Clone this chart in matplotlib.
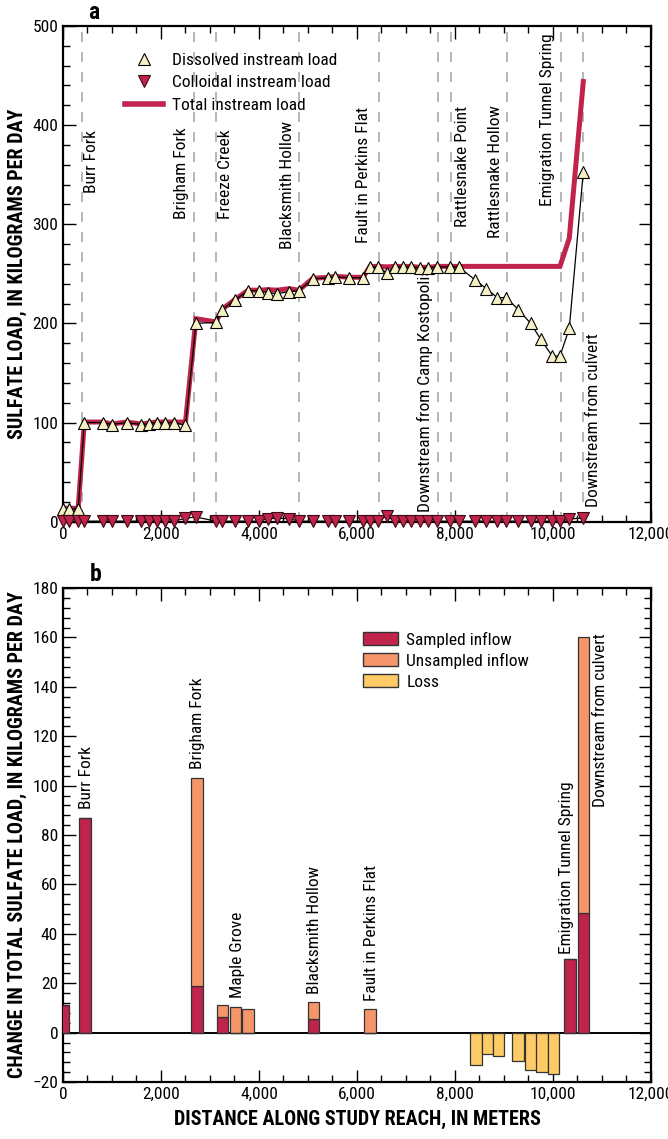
import matplotlib
matplotlib.use("Agg")
import matplotlib.pyplot as plt
from matplotlib import font_manager
from matplotlib.ticker import MultipleLocator, FuncFormatter
from matplotlib.lines import Line2D
from matplotlib.patches import Patch

# ---------------- data ----------------
# Panel a: synoptic sampling sites (distance, m)
site_x = [0, 130, 310, 435, 822, 990, 1300, 1600, 1750, 1912, 2075, 2271, 2500,
          2714, 3122, 3255, 3520, 3782, 4000, 4177, 4374, 4612, 4816, 5100, 5415,
          5550, 5843, 6125, 6265, 6435, 6606, 6776, 6932, 7100, 7280, 7456, 7635,
          7905, 8075, 8408, 8640, 8864, 9045, 9292, 9545, 9750, 9985, 10143,
          10333, 10619]
dissolved = [13, 13, 13, 100, 100, 98, 100, 98, 99, 100, 100, 100, 97,
             200, 201, 214, 224, 233, 233, 231, 230, 232, 233, 245, 246,
             247, 246, 246, 257, 257, 251, 257, 257, 257, 256, 256, 257,
             257, 257, 244, 235, 226, 226, 214, 200, 184, 167, 167,
             195, 353]
colloidal = [0.5, 0.5, 0.5, 0.5, 0.5, 0.5, 0.5, 0.5, 0.5, 0.5, 0.5, 0.5, 3.5,
             4.7, 0.5, 0.5, 0.5, 0.5, 0.5, 3.0, 3.5, 3.0, 0.5, 0.5, 0.5,
             0.5, 0.5, 0.5, 0.5, 0.5, 6.0, 0.5, 0.5, 0.5, 0.5, 0.5, 0.5,
             0.5, 0.5, 0.5, 0.5, 0.5, 0.5, 0.5, 0.5, 0.5, 0.5, 0.5,
             2.5, 4.0]
total = [13.5, 13.5, 13.5, 100.5, 100.5, 98.5, 100.5, 98.5, 99.5, 100.5, 100.5, 100.5, 100.5,
         204.7, 201.5, 214.5, 224.5, 233.5, 233.5, 234, 233.5, 235, 233.5, 245.5, 246.5,
         247.5, 246.5, 246.5, 257.5, 257.5, 257, 257.5, 257.5, 257.5, 256.5, 256.5, 257.5,
         257.5, 257.5, 257.5, 257.5, 257.5, 257.5, 257.5, 257.5, 257.5, 257.5, 257.5,
         286, 444]

# tributary / landmark lines in panel a
trib_x = [380, 2673, 3130, 4823, 6450, 7646, 7912, 9055, 10163, 10612]
trib_names_a = ["Burr Fork", "Brigham Fork", "Freeze Creek", "Blacksmith Hollow",
                "Fault in Perkins Flat", "Downstream from Camp Kostopolis",
                "Rattlesnake Point", "Rattlesnake Hollow",
                "Emigration Tunnel Spring", "Downstream from culvert"]
trib_label_x_a = [585, 2422, 3323, 4582, 6137, 7398, 8153, 8833, 9888, 10823]
trib_label_y_a = [332, 305, 305, 275, 281, 10, 297, 286, 318, 15]

# Panel b: change in load per segment
seg_x = [10, 445, 2730, 3260, 3520, 3780, 5110, 6270, 8430, 8660, 8890,
         9290, 9550, 9775, 10010, 10350, 10620]
sampled = [11, 87, 19, 6.5, 0, 0, 5.5, 0, 0, 0, 0, 0, 0, 0, 0, 30, 48.5]
unsampled = [0, 0, 84, 4.5, 10.3, 9.6, 7, 9.7, 0, 0, 0, 0, 0, 0, 0, 0, 111.5]
loss = [0, 0, 0, 0, 0, 0, 0, 0, -13, -8.5, -9.5, -11.3, -15, -16, -16.7, 0, 0]

names_b = ["Burr Fork", "Brigham Fork", "Maple Grove", "Blacksmith Hollow",
           "Fault in Perkins Flat", "Emigration Tunnel Spring", "Downstream from culvert"]
label_x_b = [470, 2735, 3563, 5143, 6290, 10280, 10970]
label_y_b = [90.4, 106.6, 14, 15.5, 12.8, 32, 91.5]

# ---------------- style ----------------
avail = {f.name for f in font_manager.fontManager.ttflist}
stretch = "normal"
FONT = "DejaVu Sans"
for cand in ["Liberation Sans Narrow", "Roboto Condensed", "DejaVu Sans"]:
    if cand in avail:
        FONT = cand
        break
if FONT == "DejaVu Sans":
    stretch = "condensed"
plt.rcParams["font.family"] = [FONT, "DejaVu Sans"]
plt.rcParams["font.stretch"] = stretch

CRIMSON = "#C1244B"
PALE = "#F6F1C4"
SALMON = "#F5956A"
LOSSC = "#FFCB66"
DASH = "#AAAAAA"

fig = plt.figure(figsize=(6.68, 11.39), dpi=100)
axa = fig.add_axes([0.0943, 0.5420, 0.8802, 0.4352])
axb = fig.add_axes([0.0943, 0.0500, 0.8802, 0.4337])

thou = FuncFormatter(lambda v, p: f"{int(v):,}")

for ax in (axa, axb):
    ax.set_xlim(0, 12000)
    ax.xaxis.set_major_locator(MultipleLocator(2000))
    ax.xaxis.set_minor_locator(MultipleLocator(500))
    ax.xaxis.set_major_formatter(thou)
    ax.tick_params(which="both", direction="in", top=True, right=True,
                   labelsize=12.5, width=1.0)
    ax.tick_params(which="major", length=9)
    ax.tick_params(which="minor", length=5)
    for s in ax.spines.values():
        s.set_linewidth(1.6)

# ---------------- panel a ----------------
axa.set_ylim(0, 500)
axa.yaxis.set_major_locator(MultipleLocator(100))
axa.yaxis.set_minor_locator(MultipleLocator(20))

for xv in trib_x:
    axa.axvline(xv, color=DASH, lw=1.2, dashes=(6, 6), zorder=1)
for name, lx, ly in zip(trib_names_a, trib_label_x_a, trib_label_y_a):
    axa.text(lx, ly, name, rotation=90, ha="center", va="bottom", fontsize=12.5, zorder=2)

axa.plot(site_x, total, color=CRIMSON, lw=3.6, zorder=3, solid_joinstyle="miter")
axa.plot(site_x, dissolved, color="black", lw=0.9, zorder=4)
axa.plot(site_x, colloidal, color="black", lw=0.9, zorder=4)
axa.plot(site_x, dissolved, ls="none", marker="^", ms=8.5, mfc=PALE, mec="black",
         mew=0.8, zorder=5, clip_on=False)
axa.plot(site_x, colloidal, ls="none", marker="v", ms=8.5, mfc=CRIMSON, mec="#3a0a14",
         mew=0.8, zorder=5, clip_on=False)

axa.set_ylabel("SULFATE LOAD, IN KILOGRAMS PER DAY", fontsize=14.5, fontweight="bold",
               labelpad=4)
axa.text(0.042, 1.004, "a", transform=axa.transAxes, fontsize=17, fontweight="bold",
         ha="left", va="bottom")

leg_a = [Line2D([], [], ls="none", marker="^", ms=9, mfc=PALE, mec="black", mew=0.8),
         Line2D([], [], ls="none", marker="v", ms=9, mfc=CRIMSON, mec="#3a0a14", mew=0.8),
         Line2D([], [], color=CRIMSON, lw=4)]
axa.legend(leg_a, ["Dissolved instream load", "Colloidal instream load", "Total instream load"],
           loc="upper left", bbox_to_anchor=(0.105, 0.945), frameon=False, fontsize=12.5,
           handlelength=2.2, handletextpad=0.5, labelspacing=0.4, borderpad=0,
           borderaxespad=0)

# ---------------- panel b ----------------
axb.set_ylim(-20, 180)
axb.yaxis.set_major_locator(MultipleLocator(20))
axb.yaxis.set_minor_locator(MultipleLocator(4))
axb.axhline(0, color="black", lw=1.4, zorder=2)

W = 235
EDGE = "#333333"
axb.bar(seg_x, sampled, width=W, color=CRIMSON, edgecolor=EDGE, lw=0.9, zorder=3)
axb.bar(seg_x, unsampled, width=W, bottom=sampled, color=SALMON, edgecolor=EDGE,
        lw=0.9, zorder=3)
axb.bar(seg_x, loss, width=W, color=LOSSC, edgecolor=EDGE, lw=0.9, zorder=3)

for name, lx, ly in zip(names_b, label_x_b, label_y_b):
    axb.text(lx, ly, name, rotation=90, ha="center", va="bottom", fontsize=12.5, zorder=4)

axb.set_ylabel("CHANGE IN TOTAL SULFATE LOAD, IN KILOGRAMS PER DAY", fontsize=14.5,
               fontweight="bold", labelpad=4)
axb.set_xlabel("DISTANCE ALONG STUDY REACH, IN METERS", fontsize=14.5, fontweight="bold",
               labelpad=6)
axb.text(0.045, 1.004, "b", transform=axb.transAxes, fontsize=17, fontweight="bold",
         ha="left", va="bottom")

leg_b = [Patch(facecolor=CRIMSON, edgecolor=EDGE), Patch(facecolor=SALMON, edgecolor=EDGE),
         Patch(facecolor=LOSSC, edgecolor=EDGE)]
axb.legend(leg_b, ["Sampled inflow", "Unsampled inflow", "Loss"], loc="upper left",
           bbox_to_anchor=(0.51, 0.912), frameon=False, fontsize=12.5, handlelength=2.0,
           handleheight=0.8, handletextpad=0.5, labelspacing=0.3, borderpad=0,
           borderaxespad=0)

fig.savefig("out.png", dpi=100)
